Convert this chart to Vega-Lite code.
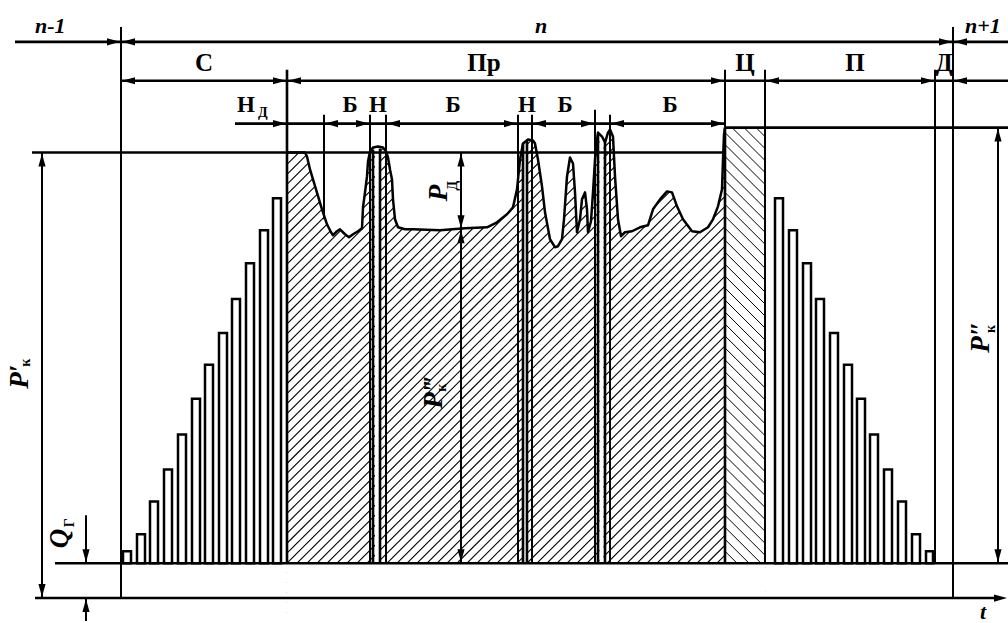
{
"$schema": "https://vega.github.io/schema/vega-lite/v6.json",
"width": 1008, "height": 623,
"autosize": {"type": "fit", "contains": "padding"},
"padding": 0,
"background": "white",
"config": {"view": {"stroke": null}},
"datasets": {
"barsL": [{"x":123,"x2":131,"y":0,"y2":12},{"x":137,"x2":145,"y":0,"y2":29},{"x":150,"x2":158,"y":0,"y2":62},{"x":164,"x2":172,"y":0,"y2":94},{"x":178,"x2":186,"y":0,"y2":129},{"x":192,"x2":200,"y":0,"y2":165},{"x":205,"x2":213,"y":0,"y2":199},{"x":219,"x2":227,"y":0,"y2":231},{"x":232,"x2":240,"y":0,"y2":265},{"x":246,"x2":254,"y":0,"y2":301},{"x":260,"x2":268,"y":0,"y2":334},{"x":273,"x2":281,"y":0,"y2":366},
{"x":775,"x2":783,"y":0,"y2":366},{"x":789,"x2":797,"y":0,"y2":334},{"x":803,"x2":811,"y":0,"y2":301},{"x":816,"x2":824,"y":0,"y2":265},{"x":830,"x2":838,"y":0,"y2":231},{"x":844,"x2":852,"y":0,"y2":199},{"x":857,"x2":865,"y":0,"y2":165},{"x":870,"x2":878,"y":0,"y2":129},{"x":884,"x2":892,"y":0,"y2":94},{"x":898,"x2":906,"y":0,"y2":62},{"x":912,"x2":920,"y":0,"y2":29},{"x":926,"x2":933,"y":0,"y2":12}],
"hatchA": [{"x":287,"x2":725,"y":-430,"y2":8},{"x":287,"x2":725,"y":-420,"y2":18},{"x":287,"x2":725,"y":-410,"y2":28},{"x":287,"x2":725,"y":-400,"y2":38},{"x":287,"x2":725,"y":-390,"y2":48},{"x":287,"x2":725,"y":-380,"y2":58},{"x":287,"x2":725,"y":-370,"y2":68},{"x":287,"x2":725,"y":-360,"y2":78},{"x":287,"x2":725,"y":-350,"y2":88},{"x":287,"x2":725,"y":-340,"y2":98},{"x":287,"x2":725,"y":-330,"y2":108},{"x":287,"x2":725,"y":-320,"y2":118},{"x":287,"x2":725,"y":-310,"y2":128},{"x":287,"x2":725,"y":-300,"y2":138},{"x":287,"x2":725,"y":-290,"y2":148},{"x":287,"x2":725,"y":-280,"y2":158},{"x":287,"x2":725,"y":-270,"y2":168},{"x":287,"x2":725,"y":-260,"y2":178},{"x":287,"x2":725,"y":-250,"y2":188},{"x":287,"x2":725,"y":-240,"y2":198},{"x":287,"x2":725,"y":-230,"y2":208},{"x":287,"x2":725,"y":-220,"y2":218},{"x":287,"x2":725,"y":-210,"y2":228},{"x":287,"x2":725,"y":-200,"y2":238},{"x":287,"x2":725,"y":-190,"y2":248},{"x":287,"x2":725,"y":-180,"y2":258},{"x":287,"x2":725,"y":-170,"y2":268},{"x":287,"x2":725,"y":-160,"y2":278},{"x":287,"x2":725,"y":-150,"y2":288},{"x":287,"x2":725,"y":-140,"y2":298},{"x":287,"x2":725,"y":-130,"y2":308},{"x":287,"x2":725,"y":-120,"y2":318},{"x":287,"x2":725,"y":-110,"y2":328},{"x":287,"x2":725,"y":-100,"y2":338},{"x":287,"x2":725,"y":-90,"y2":348},{"x":287,"x2":725,"y":-80,"y2":358},{"x":287,"x2":725,"y":-70,"y2":368},{"x":287,"x2":725,"y":-60,"y2":378},{"x":287,"x2":725,"y":-50,"y2":388},{"x":287,"x2":725,"y":-40,"y2":398},{"x":287,"x2":725,"y":-30,"y2":408},{"x":287,"x2":725,"y":-20,"y2":418},{"x":287,"x2":725,"y":-10,"y2":428},{"x":287,"x2":725,"y":0,"y2":438},{"x":287,"x2":725,"y":10,"y2":448},{"x":287,"x2":725,"y":20,"y2":458},{"x":287,"x2":725,"y":30,"y2":468},{"x":287,"x2":725,"y":40,"y2":478},{"x":287,"x2":725,"y":50,"y2":488},{"x":287,"x2":725,"y":60,"y2":498},{"x":287,"x2":725,"y":70,"y2":508},{"x":287,"x2":725,"y":80,"y2":518},{"x":287,"x2":725,"y":90,"y2":528},{"x":287,"x2":725,"y":100,"y2":538},{"x":287,"x2":725,"y":110,"y2":548},{"x":287,"x2":725,"y":120,"y2":558},{"x":287,"x2":725,"y":130,"y2":568},{"x":287,"x2":725,"y":140,"y2":578},{"x":287,"x2":725,"y":150,"y2":588},{"x":287,"x2":725,"y":160,"y2":598},{"x":287,"x2":725,"y":170,"y2":608},{"x":287,"x2":725,"y":180,"y2":618},{"x":287,"x2":725,"y":190,"y2":628},{"x":287,"x2":725,"y":200,"y2":638},{"x":287,"x2":725,"y":210,"y2":648},{"x":287,"x2":725,"y":220,"y2":658},{"x":287,"x2":725,"y":230,"y2":668},{"x":287,"x2":725,"y":240,"y2":678},{"x":287,"x2":725,"y":250,"y2":688},{"x":287,"x2":725,"y":260,"y2":698},{"x":287,"x2":725,"y":270,"y2":708},{"x":287,"x2":725,"y":280,"y2":718},{"x":287,"x2":725,"y":290,"y2":728},{"x":287,"x2":725,"y":300,"y2":738},{"x":287,"x2":725,"y":310,"y2":748},{"x":287,"x2":725,"y":320,"y2":758},{"x":287,"x2":725,"y":330,"y2":768},{"x":287,"x2":725,"y":340,"y2":778},{"x":287,"x2":725,"y":350,"y2":788},{"x":287,"x2":725,"y":360,"y2":798},{"x":287,"x2":725,"y":370,"y2":808},{"x":287,"x2":725,"y":380,"y2":818},{"x":287,"x2":725,"y":390,"y2":828},{"x":287,"x2":725,"y":400,"y2":838},{"x":287,"x2":725,"y":410,"y2":848},{"x":287,"x2":725,"y":420,"y2":858},{"x":287,"x2":725,"y":430,"y2":868},{"x":287,"x2":725,"y":440,"y2":878}],
"hatchB": [{"x":725,"x2":765,"y":12,"y2":-28},{"x":725,"x2":765,"y":24,"y2":-16},{"x":725,"x2":765,"y":36,"y2":-4},{"x":725,"x2":765,"y":48,"y2":8},{"x":725,"x2":765,"y":60,"y2":20},{"x":725,"x2":765,"y":72,"y2":32},{"x":725,"x2":765,"y":84,"y2":44},{"x":725,"x2":765,"y":96,"y2":56},{"x":725,"x2":765,"y":108,"y2":68},{"x":725,"x2":765,"y":120,"y2":80},{"x":725,"x2":765,"y":132,"y2":92},{"x":725,"x2":765,"y":144,"y2":104},{"x":725,"x2":765,"y":156,"y2":116},{"x":725,"x2":765,"y":168,"y2":128},{"x":725,"x2":765,"y":180,"y2":140},{"x":725,"x2":765,"y":192,"y2":152},{"x":725,"x2":765,"y":204,"y2":164},{"x":725,"x2":765,"y":216,"y2":176},{"x":725,"x2":765,"y":228,"y2":188},{"x":725,"x2":765,"y":240,"y2":200},{"x":725,"x2":765,"y":252,"y2":212},{"x":725,"x2":765,"y":264,"y2":224},{"x":725,"x2":765,"y":276,"y2":236},{"x":725,"x2":765,"y":288,"y2":248},{"x":725,"x2":765,"y":300,"y2":260},{"x":725,"x2":765,"y":312,"y2":272},{"x":725,"x2":765,"y":324,"y2":284},{"x":725,"x2":765,"y":336,"y2":296},{"x":725,"x2":765,"y":348,"y2":308},{"x":725,"x2":765,"y":360,"y2":320},{"x":725,"x2":765,"y":372,"y2":332},{"x":725,"x2":765,"y":384,"y2":344},{"x":725,"x2":765,"y":396,"y2":356},{"x":725,"x2":765,"y":408,"y2":368},{"x":725,"x2":765,"y":420,"y2":380},{"x":725,"x2":765,"y":432,"y2":392},{"x":725,"x2":765,"y":444,"y2":404},{"x":725,"x2":765,"y":456,"y2":416},{"x":725,"x2":765,"y":468,"y2":428}],
"masks": [{"x":287,"x2":725,"y":-58,"y2":0},{"x":725,"x2":765,"y":-58,"y2":0},{"x":725,"x2":765,"y":437,"y2":565},{"x":375,"x2":379,"y":0,"y2":416},{"x":524,"x2":526,"y":0,"y2":423},{"x":599.5,"x2":603.5,"y":0,"y2":427}],
"curve": [{"x":287,"y":412},{"x":305,"y":412},{"x":307,"y":408},{"x":310,"y":395},{"x":316,"y":375},{"x":322,"y":355},{"x":327,"y":340},{"x":331,"y":332},{"x":333,"y":329},{"x":337,"y":333},{"x":340,"y":335},{"x":345,"y":330},{"x":349,"y":327},{"x":353,"y":330},{"x":358,"y":333},{"x":362,"y":336},{"x":363,"y":357},{"x":365,"y":372},{"x":367,"y":388},{"x":368,"y":403},{"x":370,"y":413},{"x":373,"y":417},{"x":378,"y":418},{"x":383,"y":417},{"x":386,"y":413},{"x":388,"y":407},{"x":390,"y":395},{"x":392,"y":385},{"x":393,"y":365},{"x":395,"y":345},{"x":398,"y":337},{"x":405,"y":335},{"x":413,"y":335},{"x":440,"y":334},{"x":465,"y":336},{"x":487,"y":337},{"x":497,"y":342},{"x":507,"y":350},{"x":513,"y":357},{"x":517,"y":375},{"x":520,"y":405},{"x":523,"y":421},{"x":528,"y":425},{"x":533,"y":424},{"x":535,"y":421},{"x":538,"y":405},{"x":542,"y":378},{"x":545,"y":352},{"x":550,"y":325},{"x":555,"y":317},{"x":558,"y":318},{"x":562,"y":325},{"x":564,"y":345},{"x":567,"y":388},{"x":570,"y":407},{"x":573,"y":401},{"x":575,"y":372},{"x":577,"y":332},{"x":580,"y":345},{"x":582,"y":365},{"x":585,"y":372},{"x":587,"y":355},{"x":588,"y":332},{"x":591,"y":343},{"x":593,"y":372},{"x":595,"y":405},{"x":598,"y":432},{"x":602,"y":428},{"x":605,"y":422},{"x":608,"y":432},{"x":610,"y":435},{"x":613,"y":428},{"x":615,"y":388},{"x":618,"y":345},{"x":621,"y":328},{"x":625,"y":332},{"x":632,"y":333},{"x":640,"y":337},{"x":648,"y":339},{"x":653,"y":355},{"x":660,"y":365},{"x":667,"y":373},{"x":672,"y":372},{"x":677,"y":358},{"x":683,"y":345},{"x":692,"y":333},{"x":700,"y":332},{"x":708,"y":337},{"x":713,"y":345},{"x":718,"y":358},{"x":722,"y":375},{"x":723,"y":405},{"x":724,"y":430},{"x":725,"y":437}],
"thick": [{"x":15,"y":523,"x2":1008,"y2":523},{"x":121,"y":484,"x2":1008,"y2":484},{"x":235,"y":441,"x2":725,"y2":441},{"x":32,"y":412,"x2":725,"y2":412},{"x":725,"y":437,"x2":1008,"y2":437},{"x":55,"y":0,"x2":1008,"y2":0},{"x":35,"y":-35,"x2":1000,"y2":-35},{"x":287,"y":495,"x2":287,"y2":0},{"x":725,"y":437,"x2":725,"y2":0},{"x":373,"y":415,"x2":373,"y2":0},{"x":380,"y":416,"x2":380,"y2":0},{"x":523,"y":421,"x2":523,"y2":0},{"x":527,"y":424,"x2":527,"y2":0},{"x":598,"y":430,"x2":598,"y2":0},{"x":605,"y":422,"x2":605,"y2":0}],
"thin": [{"x":121,"y":538,"x2":121,"y2":-35},{"x":324,"y":450,"x2":324,"y2":345},{"x":370,"y":450,"x2":370,"y2":0},{"x":386,"y":450,"x2":386,"y2":0},{"x":518,"y":450,"x2":518,"y2":0},{"x":532,"y":450,"x2":532,"y2":0},{"x":595,"y":455,"x2":595,"y2":0},{"x":610,"y":450,"x2":610,"y2":0},{"x":725,"y":495,"x2":725,"y2":437},{"x":765,"y":495,"x2":765,"y2":0},{"x":935,"y":495,"x2":935,"y2":0},{"x":953,"y":538,"x2":953,"y2":-35},{"x":998,"y":437,"x2":998,"y2":0},{"x":461,"y":412,"x2":461,"y2":0},{"x":42,"y":412,"x2":42,"y2":-35},{"x":86,"y":48,"x2":86,"y2":0},{"x":86,"y":-35,"x2":86,"y2":-58}],
"arrows": [{"x":120,"y":523,"d":"r"},{"x":122,"y":523,"d":"l"},{"x":952,"y":523,"d":"r"},{"x":954,"y":523,"d":"l"},
{"x":122,"y":484,"d":"l"},{"x":286,"y":484,"d":"r"},{"x":288,"y":484,"d":"l"},{"x":724,"y":484,"d":"r"},{"x":766,"y":484,"d":"l"},{"x":934,"y":484,"d":"r"},{"x":954,"y":484,"d":"l"},
{"x":286,"y":441,"d":"r"},{"x":325,"y":441,"d":"l"},{"x":369,"y":441,"d":"r"},{"x":387,"y":441,"d":"l"},{"x":517,"y":441,"d":"r"},{"x":533,"y":441,"d":"l"},{"x":594,"y":441,"d":"r"},{"x":611,"y":441,"d":"l"},{"x":724,"y":441,"d":"r"},
{"x":461,"y":411,"d":"u"},{"x":461,"y":336,"d":"d"},{"x":461,"y":334,"d":"u"},{"x":461,"y":1,"d":"d"},{"x":42,"y":411,"d":"u"},{"x":42,"y":-34,"d":"d"},{"x":998,"y":436,"d":"u"},{"x":998,"y":1,"d":"d"},{"x":86,"y":1,"d":"d"},{"x":86,"y":-36,"d":"u"},{"x":1007,"y":-35,"d":"r"}],
"tItal": [{"x":35,"y":532,"t":"n-1"},{"x":535,"y":532,"t":"n"},{"x":965,"y":532,"t":"n+1"},{"x":980,"y":-56,"t":"t"}],
"tBig": [{"x":204,"y":494,"t":"С"},{"x":484,"y":494,"t":"Пр"},{"x":745,"y":494,"t":"Ц"},{"x":855,"y":494,"t":"П"},{"x":944,"y":494,"t":"Д"}],
"tMid": [{"x":246,"y":453,"t":"Н"},{"x":350,"y":453,"t":"Б"},{"x":378,"y":453,"t":"Н"},{"x":453,"y":453,"t":"Б"},{"x":527,"y":453,"t":"Н"},{"x":565,"y":453,"t":"Б"},{"x":670,"y":453,"t":"Б"}],
"tSub": [{"x":258,"y":448,"t":"Д"}],
"tRotI": [{"x":28,"y":175,"t":"P′"},{"x":442,"y":155,"t":"P‴"},{"x":989,"y":211,"t":"P″"},{"x":447,"y":363,"t":"P"},{"x":68,"y":15,"t":"Q"}],
"tRotS": [{"x":30,"y":197,"t":"к"},{"x":446,"y":172,"t":"к"},{"x":995,"y":231,"t":"к"},{"x":457,"y":374,"t":"Д"},{"x":74,"y":36,"t":"Г"}]
},
"encoding": {
"x": {"field": "x", "type": "quantitative", "scale": {"domain": [0, 1008], "nice": false, "zero": false}, "axis": null},
"y": {"field": "y", "type": "quantitative", "scale": {"domain": [-58, 565], "nice": false, "zero": false}, "axis": null}
},
"layer": [
{"data": {"name": "barsL"}, "mark": {"type": "rect", "fill": "white", "stroke": "black", "strokeWidth": 2.5},
 "encoding": {"x2": {"field": "x2"}, "y2": {"field": "y2"}}},
{"data": {"name": "hatchA"}, "mark": {"type": "rule", "color": "black", "strokeWidth": 1.1, "clip": true},
 "encoding": {"x2": {"field": "x2"}, "y2": {"field": "y2"}}},
{"data": {"name": "hatchB"}, "mark": {"type": "rule", "color": "black", "strokeWidth": 1, "clip": true},
 "encoding": {"x2": {"field": "x2"}, "y2": {"field": "y2"}}},
{"data": {"name": "masks"}, "mark": {"type": "rect", "fill": "white", "strokeWidth": 0, "clip": true},
 "encoding": {"x2": {"field": "x2"}, "y2": {"field": "y2"}}},
{"data": {"name": "curve"}, "mark": {"type": "area", "fill": "white", "opacity": 1, "clip": true},
 "encoding": {"y2": {"datum": 565}}},
{"data": {"name": "curve"}, "mark": {"type": "line", "color": "black", "strokeWidth": 2.5, "strokeJoin": "round"},
 "encoding": {}},
{"data": {"name": "thick"}, "mark": {"type": "rule", "color": "black", "strokeWidth": 2.6, "clip": true},
 "encoding": {"x2": {"field": "x2"}, "y2": {"field": "y2"}}},
{"data": {"name": "thin"}, "mark": {"type": "rule", "color": "black", "strokeWidth": 2, "clip": true},
 "encoding": {"x2": {"field": "x2"}, "y2": {"field": "y2"}}},
{"data": {"name": "arrows"}, "mark": {"type": "point", "filled": true, "size": 169, "color": "black", "opacity": 1, "strokeWidth": 0},
 "encoding": {"shape": {"field": "d", "type": "nominal", "legend": null, "scale": {"domain": ["r", "l", "u", "d"], "range": ["M0,0L-2,-0.55L-2,0.55Z", "M0,0L2,-0.55L2,0.55Z", "M0,0L-0.55,2L0.55,2Z", "M0,0L-0.55,-2L0.55,-2Z"]}}}},
{"data": {"name": "tItal"}, "mark": {"type": "text", "font": "Liberation Serif", "fontWeight": "bold", "fontStyle": "italic", "fontSize": 22, "align": "left", "baseline": "alphabetic", "color": "black"},
 "encoding": {"text": {"field": "t"}}},
{"data": {"name": "tBig"}, "mark": {"type": "text", "font": "Liberation Serif", "fontWeight": "bold", "fontSize": 25, "align": "center", "baseline": "alphabetic", "color": "black"},
 "encoding": {"text": {"field": "t"}}},
{"data": {"name": "tMid"}, "mark": {"type": "text", "font": "Liberation Serif", "fontWeight": "bold", "fontSize": 23, "align": "center", "baseline": "alphabetic", "color": "black"},
 "encoding": {"text": {"field": "t"}}},
{"data": {"name": "tSub"}, "mark": {"type": "text", "font": "Liberation Serif", "fontWeight": "bold", "fontSize": 14, "align": "left", "baseline": "alphabetic", "color": "black"},
 "encoding": {"text": {"field": "t"}}},
{"data": {"name": "tRotI"}, "mark": {"type": "text", "font": "Liberation Serif", "fontWeight": "bold", "fontStyle": "italic", "fontSize": 27, "angle": 270, "align": "left", "baseline": "alphabetic", "color": "black"},
 "encoding": {"text": {"field": "t"}}},
{"data": {"name": "tRotS"}, "mark": {"type": "text", "font": "Liberation Serif", "fontWeight": "bold", "fontSize": 14, "angle": 270, "align": "left", "baseline": "alphabetic", "color": "black"},
 "encoding": {"text": {"field": "t"}}}
]
}
